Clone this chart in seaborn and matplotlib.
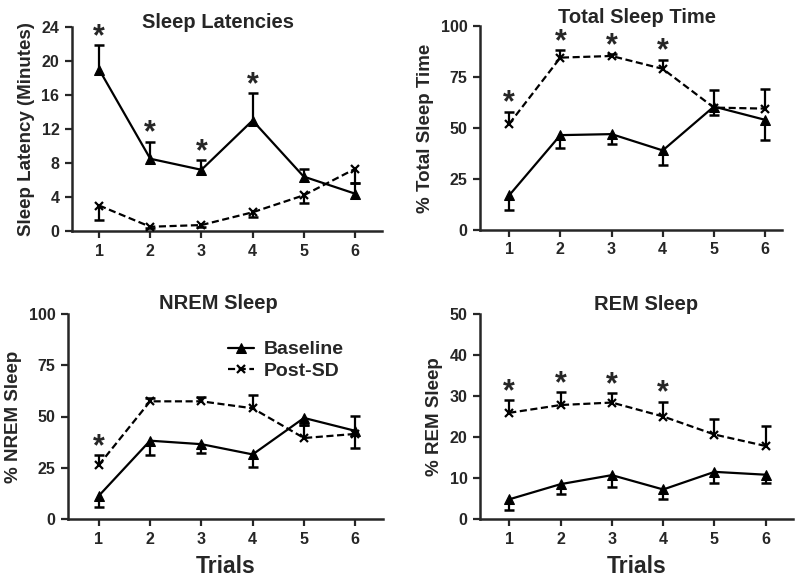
import numpy as np
import matplotlib
matplotlib.use('Agg')
import matplotlib.pyplot as plt
import seaborn as sns

trials = [1, 2, 3, 4, 5, 6]

# Sleep latencies (minutes)
latency_base = [19.0, 8.5, 7.2, 13.0, 6.4, 4.4]
latency_base_err = [2.9, 2.0, 1.1, 3.2, 0.9, 1.2]      # drawn upward
latency_post = [3.0, 0.5, 0.7, 2.2, 4.2, 7.3]
latency_post_err = [1.7, 0.2, 0.2, 0.5, 0.95, 1.7]    # drawn downward
latency_sig = [1, 2, 3, 4]

# Total sleep time (%)
tst_base = [17.0, 46.5, 47.0, 39.0, 60.5, 54.0]
tst_base_err = [7.0, 6.5, 5.0, 7.0, 4.0, 9.8]          # downward
tst_post = [52.0, 84.5, 85.3, 79.0, 60.0, 59.5]
tst_post_err = [6.0, 3.5, 1.0, 4.5, 8.8, 9.6]          # upward
tst_sig = [1, 2, 3, 4]

# NREM sleep (%)
nrem_base = [11.3, 38.2, 36.5, 31.5, 49.3, 43.0]
nrem_base_err = [5.4, 7.0, 4.5, 6.0, 3.3, 8.4]         # downward
nrem_post = [26.3, 57.4, 57.4, 54.0, 39.5, 41.5]
nrem_post_err = [5.0, 1.5, 2.3, 6.5, 6.5, 8.7]         # upward
nrem_sig = [1]

# REM sleep (%)
rem_base = [4.8, 8.5, 10.7, 7.2, 11.5, 10.8]
rem_base_err = [2.7, 2.5, 2.9, 2.2, 2.6, 1.9]          # downward
rem_post = [25.9, 27.8, 28.4, 25.0, 20.6, 17.8]
rem_post_err = [3.1, 3.1, 2.3, 3.6, 3.7, 5.0]          # upward
rem_sig = [1, 2, 3, 4]

sns.set_style('ticks')
plt.rcParams['font.family'] = ['Liberation Sans', 'DejaVu Sans']
plt.rcParams['font.weight'] = 'bold'

fig = plt.figure(figsize=(8, 5.81), dpi=100)
W, H = 800.0, 581.0


def add_axes(x0, x1, y0, y1):
    return fig.add_axes([x0 / W, 1 - y1 / H, (x1 - x0) / W, (y1 - y0) / H])


def one_sided(ax, vals, errs, direction):
    vals = np.array(vals)
    errs = np.array(errs)
    ends = vals + direction * errs
    ax.vlines(trials, vals, ends, color='black', lw=1.6, zorder=2)
    ax.plot(trials, ends, ls='none', marker='_', ms=7, mew=1.8, color='black', zorder=2)


def panel(ax, title, ylabel, base, base_err, base_dir, post, post_err, post_dir,
          sig, sig_series, yticks, xlim, title_x, title_pad, legend=False, xlabel=False):
    sns.lineplot(x=trials, y=base, ax=ax, color='black', lw=1.6, marker='^',
                 markersize=7, markeredgecolor='black', label='Baseline', zorder=3)
    sns.lineplot(x=trials, y=post, ax=ax, color='black', lw=1.6, marker='x',
                 markersize=6, markeredgewidth=1.6, markeredgecolor='black',
                 label='Post-SD', zorder=3)
    ax.lines[1].set_linestyle((0, (3.2, 1.6)))
    one_sided(ax, base, base_err, base_dir)
    one_sided(ax, post, post_err, post_dir)

    if sig_series == 'base':
        v, e, d = base, base_err, base_dir
    else:
        v, e, d = post, post_err, post_dir
    for t in sig:
        i = trials.index(t)
        top = max(v[i], v[i] + d * e[i])
        ax.annotate('*', xy=(t, top), xytext=(0, -5), textcoords='offset points',
                    ha='center', va='bottom', fontsize=22, fontweight='bold')

    ax.set_xlim(*xlim)
    ax.set_ylim(yticks[0], yticks[-1])
    ax.set_xticks(trials)
    ax.set_yticks(yticks)
    ax.tick_params(axis='both', direction='out', length=5, width=1.6,
                   labelsize=11.5, pad=4)
    for lab in ax.get_xticklabels() + ax.get_yticklabels():
        lab.set_fontweight('bold')
    for s in ['top', 'right']:
        ax.spines[s].set_visible(False)
    for s in ['left', 'bottom']:
        ax.spines[s].set_linewidth(1.8)
    ax.set_title(title, fontsize=14.5, fontweight='bold', pad=title_pad, x=title_x, y=1.0)
    ax.set_ylabel(ylabel, fontsize=13.5, fontweight='bold', labelpad=5)
    if xlabel:
        ax.set_xlabel('Trials', fontsize=16.5, fontweight='bold', labelpad=6)
    else:
        ax.set_xlabel('')
    if legend:
        ax.legend(loc='upper right', bbox_to_anchor=(0.93, 0.955), frameon=False,
                  handlelength=1.3, handletextpad=0.5, labelspacing=0.2,
                  prop={'size': 14, 'weight': 'bold'})
    else:
        ax.get_legend().remove()


ax1 = add_axes(72, 382, 27, 231)
panel(ax1, 'Sleep Latencies', 'Sleep Latency (Minutes)', latency_base, latency_base_err, 1,
      latency_post, latency_post_err, -1, latency_sig, 'base',
      [0, 4, 8, 12, 16, 20, 24], (0.47, 6.53), 0.47, -0.8)

ax2 = add_axes(480, 782, 26, 230)
panel(ax2, 'Total Sleep Time', '% Total Sleep Time', tst_base, tst_base_err, -1,
      tst_post, tst_post_err, 1, tst_sig, 'post',
      [0, 25, 50, 75, 100], (0.43, 6.33), 0.52, 2.2)

ax3 = add_axes(68, 383, 314, 519)
panel(ax3, 'NREM Sleep', '% NREM Sleep', nrem_base, nrem_base_err, -1,
      nrem_post, nrem_post_err, 1, nrem_sig, 'post',
      [0, 25, 50, 75, 100], (0.40, 6.54), 0.476, 3.8, legend=True, xlabel=True)

ax4 = add_axes(480, 793, 314, 519)
panel(ax4, 'REM Sleep', '% REM Sleep', rem_base, rem_base_err, -1,
      rem_post, rem_post_err, 1, rem_sig, 'post',
      [0, 10, 20, 30, 40, 50], (0.43, 6.53), 0.53, 3.0, xlabel=True)

fig.savefig('out.png', dpi=100)
